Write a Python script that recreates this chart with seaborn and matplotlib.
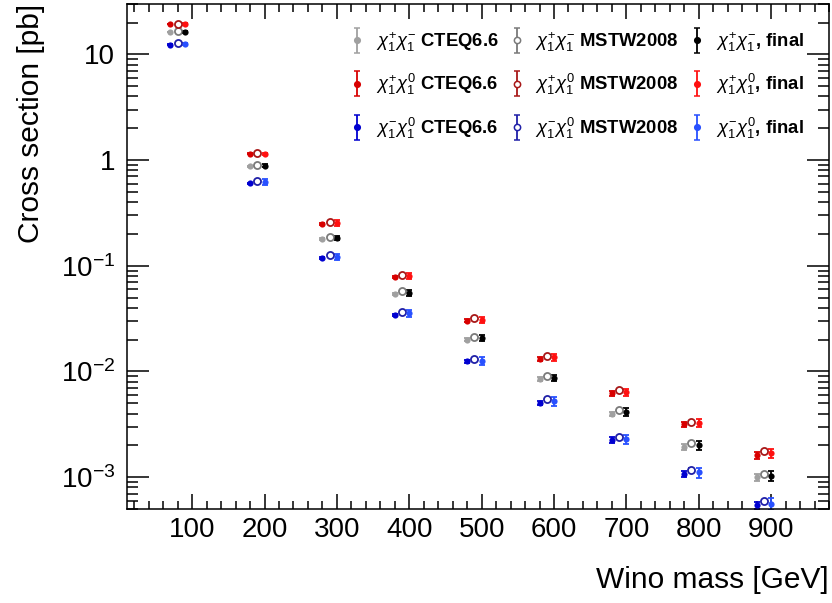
import numpy as np
import pandas as pd
import matplotlib
matplotlib.use("Agg")
import matplotlib.pyplot as plt
import seaborn as sns
from matplotlib.container import ErrorbarContainer
from matplotlib.legend_handler import HandlerErrorbar
from matplotlib.ticker import MultipleLocator, LogLocator, FuncFormatter, NullFormatter

# ---------------- data ----------------
mass = [90, 200, 300, 400, 500, 600, 700, 800, 900]

xs_pm_cteq = [16.3, 0.877, 0.180, 0.0537, 0.0200, 0.00849, 0.00398, 0.00193, 0.00100]
xs_pm_mstw = [16.6, 0.902, 0.189, 0.0580, 0.0214, 0.00912, 0.00430, 0.00210, 0.00107]
xs_pm_final = [16.4, 0.888, 0.183, 0.0556, 0.0207, 0.00873, 0.00414, 0.00200, 0.00103]

xs_pp_cteq = [19.4, 1.146, 0.249, 0.0782, 0.0302, 0.0131, 0.00622, 0.00317, 0.00161]
xs_pp_mstw = [19.5, 1.160, 0.257, 0.0822, 0.0320, 0.0141, 0.00665, 0.00333, 0.00175]
xs_pp_final = [19.4, 1.146, 0.2535, 0.0799, 0.0308, 0.0136, 0.00634, 0.00326, 0.00169]

xs_mp_cteq = [12.4, 0.605, 0.118, 0.0342, 0.01245, 0.00503, 0.00226, 0.00107, 0.00054]
xs_mp_mstw = [12.8, 0.641, 0.127, 0.0367, 0.0131, 0.00550, 0.00239, 0.00118, 0.00059]
xs_mp_final = [12.5, 0.619, 0.1216, 0.0354, 0.01264, 0.00521, 0.00230, 0.00111, 0.000562]

# relative uncertainties
err_pm_cteq = [0.01, 0.01, 0.02, 0.02, 0.03, 0.04, 0.05, 0.06, 0.07]
err_pm_mstw = [0.01, 0.01, 0.01, 0.01, 0.02, 0.02, 0.02, 0.03, 0.03]
err_pm_final = [0.02, 0.03, 0.04, 0.06, 0.07, 0.07, 0.08, 0.09, 0.10]
err_pp_cteq = [0.01, 0.01, 0.02, 0.02, 0.03, 0.04, 0.05, 0.06, 0.07]
err_pp_mstw = [0.01, 0.01, 0.01, 0.01, 0.02, 0.02, 0.02, 0.03, 0.03]
err_pp_final = [0.02, 0.03, 0.06, 0.07, 0.07, 0.08, 0.08, 0.09, 0.10]
err_mp_cteq = [0.01, 0.01, 0.02, 0.03, 0.04, 0.05, 0.06, 0.07, 0.08]
err_mp_mstw = [0.01, 0.01, 0.01, 0.01, 0.02, 0.02, 0.02, 0.03, 0.03]
err_mp_final = [0.02, 0.06, 0.07, 0.08, 0.08, 0.09, 0.10, 0.11, 0.12]

pdf_sets = ["CTEQ6.6", "MSTW2008", "final"]
pdf_offset = {"CTEQ6.6": -20, "MSTW2008": -10, "final": 0}
processes = ["pm", "pp", "mp"]
proc_tex = {"pm": r"$\chi^{+}_{1}\chi^{-}_{1}$",
            "pp": r"$\chi^{+}_{1}\chi^{0}_{1}$",
            "mp": r"$\chi^{-}_{1}\chi^{0}_{1}$"}
values = {
    ("pm", "CTEQ6.6"): (xs_pm_cteq, err_pm_cteq),
    ("pm", "MSTW2008"): (xs_pm_mstw, err_pm_mstw),
    ("pm", "final"): (xs_pm_final, err_pm_final),
    ("pp", "CTEQ6.6"): (xs_pp_cteq, err_pp_cteq),
    ("pp", "MSTW2008"): (xs_pp_mstw, err_pp_mstw),
    ("pp", "final"): (xs_pp_final, err_pp_final),
    ("mp", "CTEQ6.6"): (xs_mp_cteq, err_mp_cteq),
    ("mp", "MSTW2008"): (xs_mp_mstw, err_mp_mstw),
    ("mp", "final"): (xs_mp_final, err_mp_final),
}
colors = {
    ("pm", "CTEQ6.6"): "#a0a0a0", ("pm", "MSTW2008"): "#7a7a7a", ("pm", "final"): "#000000",
    ("pp", "CTEQ6.6"): "#d80000", ("pp", "MSTW2008"): "#a81818", ("pp", "final"): "#ff1010",
    ("mp", "CTEQ6.6"): "#0000d0", ("mp", "MSTW2008"): "#2020a8", ("mp", "final"): "#2850ff",
}

rows = []
for p in processes:
    for s in pdf_sets:
        xs, er = values[(p, s)]
        for m, v, e in zip(mass, xs, er):
            rows.append({"process": p, "pdf": s, "mass": m + pdf_offset[s],
                         "xsec": v, "err": v * e})
df = pd.DataFrame(rows)

# ---------------- style ----------------
sns.set_theme(style="ticks")
plt.rcParams["font.family"] = ["Liberation Sans", "DejaVu Sans"]
plt.rcParams["mathtext.fontset"] = "custom"
plt.rcParams["mathtext.rm"] = "Liberation Sans"
plt.rcParams["mathtext.it"] = "Liberation Sans:italic"
plt.rcParams["mathtext.bf"] = "Liberation Sans:bold"
plt.rcParams["text.color"] = "black"
plt.rcParams["axes.labelcolor"] = "black"
plt.rcParams["xtick.color"] = "black"
plt.rcParams["ytick.color"] = "black"

fig = plt.figure(figsize=(8.32, 6.03), dpi=100)
fig.patch.set_facecolor("white")
ax = fig.add_axes([127 / 832, 94 / 603, 702 / 832, 505 / 603])
ax.set_facecolor("white")

handles = {}
for p in processes:
    for s in pdf_sets:
        sub = df[(df.process == p) & (df.pdf == s)]
        c = colors[(p, s)]
        ax.errorbar(sub["mass"], sub["xsec"], yerr=sub["err"], fmt="none",
                    ecolor=c, elinewidth=1.3, capsize=2.3, capthick=1.3, zorder=2)
        if s == "MSTW2008":
            sns.scatterplot(data=sub, x="mass", y="xsec", ax=ax, marker="o", s=26,
                            facecolor="white", edgecolor=c, linewidth=1.3,
                            color=c, zorder=3, legend=False)
            mfc, ms = "white", 4.5
        else:
            sns.scatterplot(data=sub, x="mass", y="xsec", ax=ax, marker="o", s=20,
                            color=c, edgecolor=c, linewidth=0, zorder=3, legend=False)
            mfc, ms = c, 4.0
        h = ax.errorbar([np.nan], [np.nan], yerr=[np.nan], fmt="o", color=c,
                        mfc=mfc, mec=c, ms=ms, mew=1.1, elinewidth=1.3,
                        capsize=2.3, capthick=1.3)
        sep = ", " if s == "final" else " "
        handles[(p, s)] = (h, proc_tex[p] + sep + s)

ax.set_yscale("log")
ax.set_xlim(10, 980)
ax.set_ylim(5e-4, 30)

ax.xaxis.set_major_locator(MultipleLocator(100))
ax.xaxis.set_minor_locator(MultipleLocator(20))
ax.yaxis.set_major_locator(LogLocator(base=10))
ax.yaxis.set_minor_locator(LogLocator(base=10, subs=np.arange(2, 10)))
ax.yaxis.set_minor_formatter(NullFormatter())


def yfmt(v, pos):
    e = int(round(np.log10(v)))
    if e == 1:
        return "10"
    if e == 0:
        return "1"
    return r"$10^{%d}$" % e


ax.yaxis.set_major_formatter(FuncFormatter(yfmt))

for sp in ax.spines.values():
    sp.set_linewidth(1.1)
    sp.set_color("black")
    sp.set_visible(True)
ax.tick_params(axis="x", which="major", direction="in", length=11, width=1.1,
               top=True, bottom=True, labelsize=20, pad=6, colors="black")
ax.tick_params(axis="x", which="minor", direction="in", length=5.5, width=1.1,
               top=True, bottom=True)
ax.tick_params(axis="y", which="major", direction="in", length=15.6, width=1.1,
               left=True, right=True, labelsize=20, pad=8.5, colors="black")
ax.tick_params(axis="y", which="minor", direction="in", length=8, width=1.1,
               left=True, right=True)

ax.set_xlabel("Wino mass [GeV]", fontsize=21.5, loc="right", color="black")
ax.xaxis.set_label_coords(1.0, -0.112)
ax.set_ylabel("Cross section [pb]", fontsize=21.5, loc="top", color="black")
ax.yaxis.set_label_coords(-0.117, 1.0)

order = [(p, s) for s in pdf_sets for p in processes]
leg = ax.legend([handles[k][0] for k in order], [handles[k][1] for k in order],
                ncol=3, loc="upper left", bbox_to_anchor=(348 / 832, 1 - 30 / 603),
                bbox_transform=fig.transFigure, frameon=False,
                prop={"weight": "bold", "size": 13.3},
                handlelength=1.0, handletextpad=0.5, columnspacing=0.5,
                labelspacing=1.0, borderpad=0.0, borderaxespad=0.0,
                handler_map={ErrorbarContainer: HandlerErrorbar(xerr_size=0.5, yerr_size=0.68)})
for t in leg.get_texts():
    t.set_color("black")

fig.savefig("out.png", dpi=100, facecolor="white")
